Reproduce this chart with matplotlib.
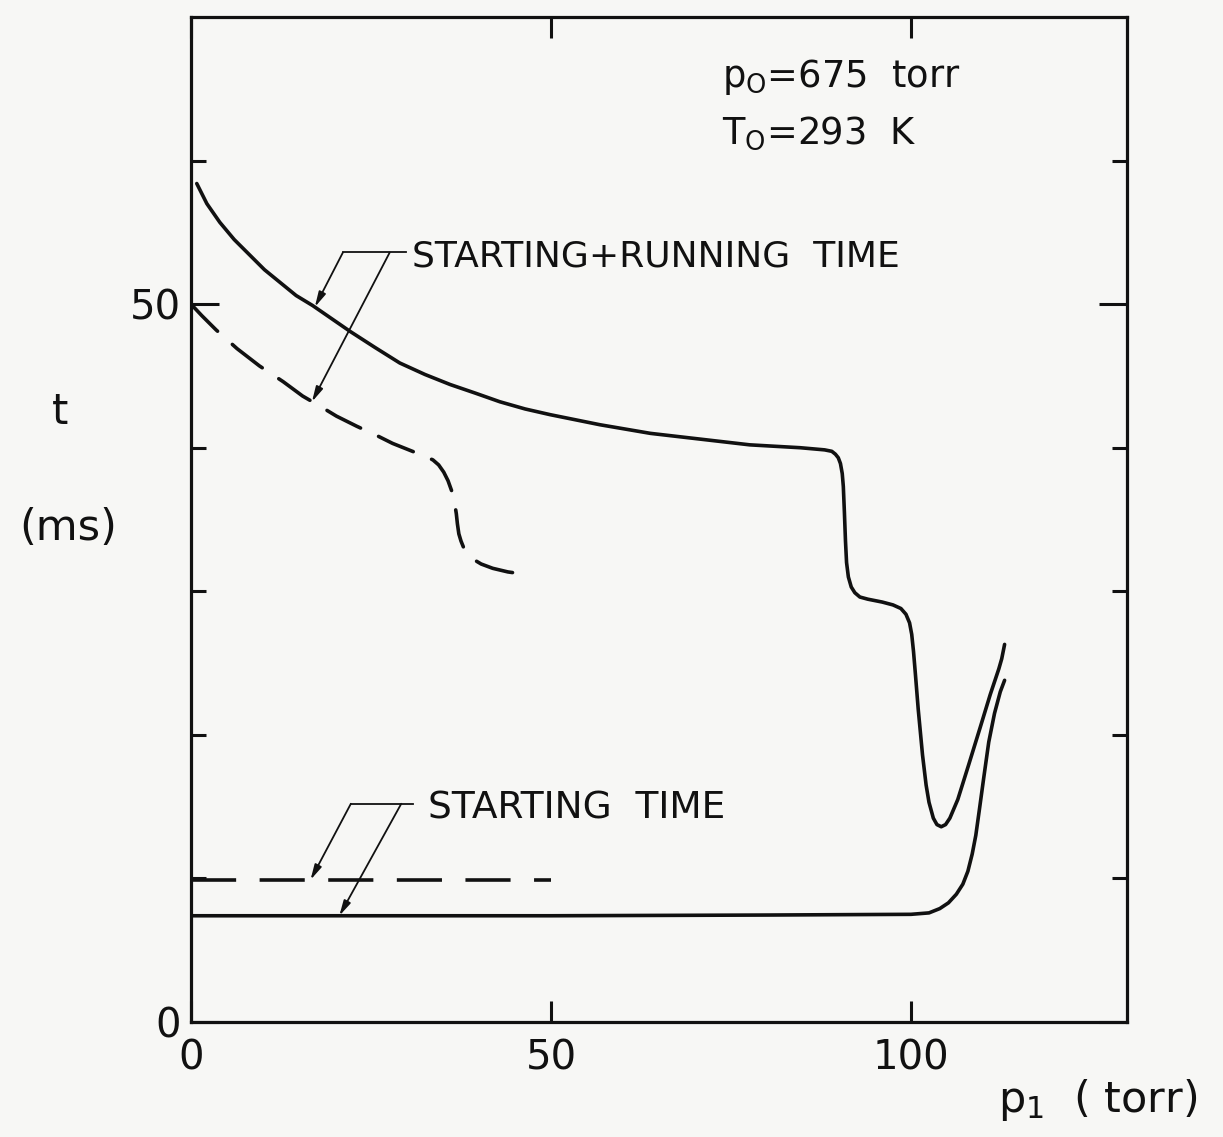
import matplotlib
matplotlib.use('Agg')
import matplotlib.pyplot as plt

plt.rcParams['font.family'] = ['DejaVu Sans']
plt.rcParams['mathtext.fontset'] = 'dejavusans'

# ---- data ----
# starting + running time, solid curve
run_solid_x = [0.8, 2.2, 4.0, 6.0, 8.2, 10.2, 12.4, 14.6, 16.9, 19.5, 22.1, 25.5,
               29.0, 32.5, 36.0, 39.5, 42.9, 46.4, 49.9, 56.8, 63.8, 70.7, 77.6,
               84.6, 88.0, 89.0, 89.5, 89.9, 90.2, 90.45, 90.6, 90.75, 90.9,
               91.05, 91.3, 91.7, 92.2, 92.9, 94.0, 96.0, 97.5, 98.6, 99.3, 99.8,
               100.1, 100.35, 100.6, 101.0, 101.6, 102.1, 102.5, 103.1, 103.6,
               104.2, 104.8, 105.4, 106.5, 108.0, 109.6, 111.0, 112.2, 112.6, 113.0]
run_solid_y = [58.4, 57.0, 55.7, 54.5, 53.4, 52.4, 51.5, 50.6, 49.9, 49.0, 48.1, 47.0,
               45.9, 45.1, 44.4, 43.8, 43.2, 42.7, 42.3, 41.6, 41.0, 40.6, 40.2,
               40.0, 39.85, 39.75, 39.55, 39.3, 38.9, 38.2, 37.3, 35.5, 33.5,
               32.0, 31.0, 30.3, 29.9, 29.6, 29.45, 29.25, 29.05, 28.8, 28.4, 27.8,
               27.0, 25.8, 24.3, 21.8, 18.6, 16.5, 15.3, 14.2, 13.75,
               13.6, 13.75, 14.2, 15.5, 17.9, 20.5, 22.8, 24.6, 25.3, 26.3]

# starting + running time, dashed curve
run_dash_x = [0.0, 1.5, 3.5, 6.4, 9.5, 12.8, 15.5, 17.9, 20.2, 23.0, 26.0, 28.0,
              30.5, 32.5, 33.6, 34.4, 35.1, 35.7, 36.2, 36.6, 36.85, 37.0, 37.2,
              37.5, 37.9, 38.5, 39.3, 40.3, 41.9, 44.0, 46.1]
run_dash_y = [50.0, 49.2, 48.2, 46.9, 45.7, 44.6, 43.6, 42.9, 42.2, 41.5, 40.8, 40.3,
              39.8, 39.4, 39.15, 38.8, 38.3, 37.7, 37.0, 36.2, 35.4, 34.7, 34.0,
              33.5, 33.0, 32.6, 32.2, 31.9, 31.6, 31.35, 31.2]

# starting time, solid curve
start_solid_x = [0.0, 20.0, 50.0, 80.0, 100.0, 102.5, 104.0, 105.2, 106.3, 107.2,
                 107.9, 108.5, 109.0, 109.5, 110.1, 110.8, 111.6, 112.4, 113.0]
start_solid_y = [7.4, 7.4, 7.4, 7.45, 7.5, 7.6, 7.9, 8.3, 8.9, 9.6,
                 10.5, 11.7, 13.0, 14.8, 17.0, 19.5, 21.5, 23.0, 23.8]

# starting time, dashed curve
start_dash_x = [0.0, 50.0]
start_dash_y = [9.9, 9.9]

x_ticks = [0, 50, 100]
x_tick_labels = ['0', '50', '100']
y_ticks = [0, 50]
y_tick_labels = ['0', '50']
y_minor_ticks = [10, 20, 30, 40, 60]

# ---- figure ----
W, H = 1223, 1137
bg = '#f7f7f5'
ink = '#111111'
fig = plt.figure(figsize=(W / 100, H / 100), dpi=100)
fig.patch.set_facecolor(bg)
ax = fig.add_axes([191 / W, 1 - 1022 / H, (1127 - 191) / W, (1022 - 17) / H])
ax.set_facecolor(bg)
ax.set_xlim(0, 130)
ax.set_ylim(0, 70)

for s in ax.spines.values():
    s.set_linewidth(2.3)
    s.set_color(ink)

lw = 2.6
ax.plot(run_solid_x, run_solid_y, color=ink, lw=lw, solid_capstyle='round',
        solid_joinstyle='round')
ax.plot(run_dash_x, run_dash_y, color=ink, lw=lw, dashes=(10.5, 5.5),
        dash_capstyle='round', dash_joinstyle='round')
ax.plot(start_solid_x, start_solid_y, color=ink, lw=lw, solid_joinstyle='round',
        solid_capstyle='round')
ax.plot(start_dash_x, start_dash_y, color=ink, lw=lw, dashes=(12.5, 6.5))

ax.set_xticks(x_ticks)
ax.set_xticklabels(x_tick_labels)
ax.set_yticks(y_ticks)
ax.set_yticklabels(y_tick_labels)
ax.set_yticks(y_minor_ticks, minor=True)
ax.tick_params(axis='x', which='major', direction='in', length=15, width=2.2,
               top=True, bottom=True, labelsize=29, pad=12, colors=ink)
ax.tick_params(axis='y', which='major', direction='in', length=20, width=2.2,
               left=True, right=True, labelsize=29, pad=7, colors=ink)
ax.tick_params(axis='y', which='minor', direction='in', length=11, width=2.2,
               left=True, right=True, colors=ink)

# ---- annotations ----
ann_fs = 26
arrow_kw = dict(arrowstyle='-|>,head_length=0.9,head_width=0.22', lw=1.3,
                color=ink, shrinkA=0, shrinkB=0)

# starting + running time
ax.plot([21.1, 29.8], [53.6, 53.6], color=ink, lw=1.3)
ax.annotate('', xy=(17.2, 49.8), xytext=(21.1, 53.6), arrowprops=arrow_kw)
ax.annotate('', xy=(16.8, 43.2), xytext=(27.6, 53.6), arrowprops=arrow_kw)
ax.text(30.7, 53.3, 'STARTING+RUNNING  TIME', fontsize=ann_fs, color=ink,
        ha='left', va='center')

# starting time
ax.plot([22.2, 30.9], [15.2, 15.2], color=ink, lw=1.3)
ax.annotate('', xy=(16.6, 9.9), xytext=(22.2, 15.2), arrowprops=arrow_kw)
ax.annotate('', xy=(20.6, 7.4), xytext=(29.2, 15.2), arrowprops=arrow_kw)
ax.text(32.9, 14.9, 'STARTING  TIME', fontsize=27, color=ink,
        ha='left', va='center')

# conditions
ax.text(73.8, 65.8, r'p$_{\mathregular{O}}$=675  torr', fontsize=26.5, color=ink,
        ha='left', va='center')
ax.text(73.8, 61.9, r'T$_{\mathregular{O}}$=293  K', fontsize=26.5, color=ink,
        ha='left', va='center')

# axis labels
fig.text(60 / W, 1 - 412 / H, 't', fontsize=30, color=ink, ha='center', va='center')
fig.text(68 / W, 1 - 528 / H, '(ms)', fontsize=31, color=ink, ha='center', va='center')
fig.text(998 / W, 1 - 1100 / H, r'p$_{\mathregular{1}}$  ( torr)', fontsize=31,
         color=ink, ha='left', va='center')

fig.savefig('out.png', dpi=100, facecolor=bg)
